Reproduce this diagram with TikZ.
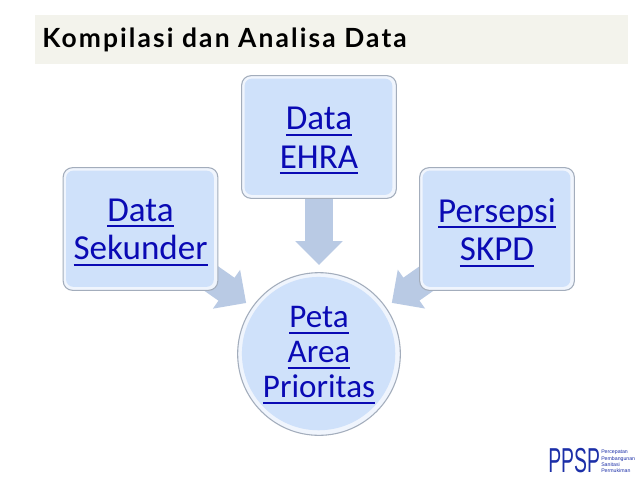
\documentclass[tikz,border=0pt]{standalone}
\usepackage{fontspec}
\usetikzlibrary{arrows.meta}
\setmainfont{Carlito}
\newfontfamily\titlefont[LetterSpace=8]{Lato}
\newfontfamily\logofont{Liberation Sans}
\definecolor{linkblue}{HTML}{0A0AB4}
\definecolor{boxfill}{HTML}{CFE1FA}
\definecolor{boxedge}{HTML}{A3ADBC}
\definecolor{boxshine}{HTML}{F0F5FD}
\definecolor{arrowfill}{HTML}{B9CAE4}
\definecolor{bandfill}{HTML}{F3F3EC}
\definecolor{logoblue}{HTML}{1C2FA8}
\def\ulshift{0pt}
\newcommand{\ulword}[1]{\leavevmode\setbox0=\hbox{#1}\raisebox{\ulshift}[\ht0][\dp0]{\rlap{\rule[-4.6pt]{\wd0}{1.5pt}}\copy0}}
\tikzset{
  panel/.style={draw=boxedge,line width=0.8pt,fill=boxshine,text=linkblue,align=center,inner sep=0pt},
  boxnode/.style={panel,rectangle,rounded corners=7pt,minimum width=116pt,minimum height=92pt,
    font=\def\ulshift{-0.4pt}\fontsize{26.3}{29}\selectfont,
    path picture={\fill[boxfill,rounded corners=5.5pt]
      ([shift={(2.2pt,2.6pt)}]path picture bounding box.south west) rectangle
      ([shift={(-3pt,-2.2pt)}]path picture bounding box.north east);}},
  circnode/.style={panel,circle,minimum size=122pt,font=\def\ulshift{1.5pt}\fontsize{24.8}{26.2}\selectfont,
    path picture={\fill[boxfill] ([shift={(-0.3pt,0.3pt)}]path picture bounding box.center) circle (57.5pt);}},
  blockarrow/.style={arrowfill,line width=21pt,shorten >=66.7pt,
    -{Triangle[length=18pt,width=34.5pt]}},
}
\begin{document}
\begin{tikzpicture}[x=0.75pt,y=-0.75pt]
\useasboundingbox (0,0) rectangle (638,479);
\fill[white] (0,0) rectangle (638,479);
\fill[bandfill] (35,15) rectangle (628,64);
\node[anchor=base west,inner sep=0pt,font=\titlefont\bfseries\fontsize{19.8}{22}\selectfont,text=black] (title) at (42,47) {Kompilasi dan Analisa Data};
\path (140.5,229) coordinate (lc) (319,137) coordinate (tc) (497,229) coordinate (rc) (319,354) coordinate (cc);
\draw[blockarrow] (lc) -- (cc);
\draw[blockarrow] (tc) -- (cc);
\draw[blockarrow] (rc) -- (cc);
\node[boxnode] (left) at (lc) {\ulword{Data}\\\ulword{Sekunder}};
\node[boxnode] (top) at (tc) {\ulword{Data}\\\ulword{EHRA}};
\node[boxnode] (right) at (rc) {\ulword{Persepsi}\\\ulword{SKPD}};
\node[circnode] (centre) at (cc) {\ulword{Peta}\\\ulword{Area}\\\ulword{Prioritas}};
\node[anchor=base west,inner sep=0pt,text=logoblue] (logo) at (548,472) {\logofont\scalebox{0.66}[1.18]{\fontsize{22}{22}\selectfont PPSP}};
\node[anchor=north west,inner sep=0pt,align=left,text=logoblue,font=\logofont\fontsize{3.9}{4.75}\selectfont] (logotext) at (601,450) {Percepatan\\Pembangunan\\Sanitasi\\Permukiman};
\end{tikzpicture}
\end{document}
